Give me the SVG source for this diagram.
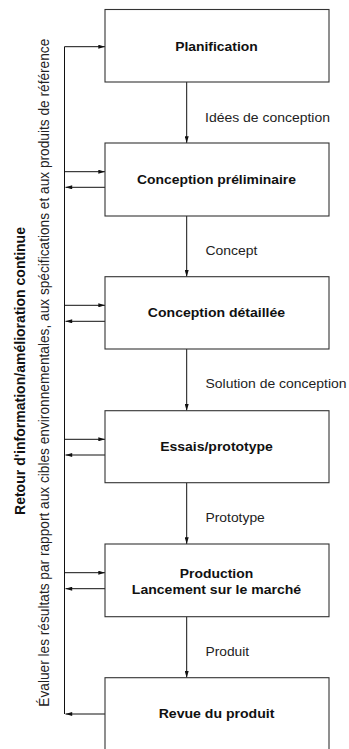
<svg xmlns="http://www.w3.org/2000/svg" width="349" height="749" viewBox="0 0 349 749">
<style>
.box{fill:#fff;stroke:#333;stroke-width:1.1}
.bt{font-family:"Liberation Sans",Arial,sans-serif;font-weight:bold;font-size:12.5px;fill:#111;text-anchor:middle}
.lt{font-family:"Liberation Sans",Arial,sans-serif;font-size:12.5px;fill:#222}
.side{font-family:"Liberation Sans",Arial,sans-serif;font-size:12px;fill:#222}
.sideb{font-family:"Liberation Sans",Arial,sans-serif;font-size:12px;font-weight:bold;fill:#111}
.ln{stroke:#111;stroke-width:1;fill:none}
</style>
<defs>
<marker id="ah" viewBox="0 0 10 6" refX="10" refY="3" markerWidth="8" markerHeight="4" markerUnits="userSpaceOnUse" orient="auto">
<path d="M0,0 L10,3 L0,6 Z" fill="#111"/>
</marker>
</defs>
<rect width="349" height="749" fill="#fff"/>
<g id="connectors">
<line class="ln" x1="186.7" y1="82" x2="186.7" y2="143" marker-end="url(#ah)"/>
<line class="ln" x1="186.7" y1="216" x2="186.7" y2="276.7" marker-end="url(#ah)"/>
<line class="ln" x1="186.7" y1="349" x2="186.7" y2="410.7" marker-end="url(#ah)"/>
<line class="ln" x1="186.7" y1="482.7" x2="186.7" y2="544" marker-end="url(#ah)"/>
<line class="ln" x1="186.7" y1="616.7" x2="186.7" y2="677.7" marker-end="url(#ah)"/>
<line class="ln" x1="64.5" y1="46.7" x2="64.5" y2="714"/>
<line class="ln" x1="64.5" y1="46.7" x2="105" y2="46.7" marker-end="url(#ah)"/>
<line class="ln" x1="64.5" y1="171.7" x2="105" y2="171.7" marker-end="url(#ah)"/>
<line class="ln" x1="105" y1="187.3" x2="65.5" y2="187.3" marker-end="url(#ah)"/>
<line class="ln" x1="64.5" y1="305.3" x2="105" y2="305.3" marker-end="url(#ah)"/>
<line class="ln" x1="105" y1="321.3" x2="65.5" y2="321.3" marker-end="url(#ah)"/>
<line class="ln" x1="64.5" y1="439.3" x2="105" y2="439.3" marker-end="url(#ah)"/>
<line class="ln" x1="105" y1="455" x2="65.5" y2="455" marker-end="url(#ah)"/>
<line class="ln" x1="64.5" y1="572.7" x2="105" y2="572.7" marker-end="url(#ah)"/>
<line class="ln" x1="105" y1="588.7" x2="65.5" y2="588.7" marker-end="url(#ah)"/>
<line class="ln" x1="105" y1="714" x2="65.5" y2="714" marker-end="url(#ah)"/>
<text class="lt" x="205" y="121.5" textLength="125" lengthAdjust="spacingAndGlyphs">Idées de conception</text>
<text class="lt" x="205.5" y="255" textLength="52" lengthAdjust="spacingAndGlyphs">Concept</text>
<text class="lt" x="205.5" y="388" textLength="141" lengthAdjust="spacingAndGlyphs">Solution de conception</text>
<text class="lt" x="205.5" y="521.7" textLength="59.3" lengthAdjust="spacingAndGlyphs">Prototype</text>
<text class="lt" x="205.5" y="656" textLength="43.6" lengthAdjust="spacingAndGlyphs">Produit</text>
</g>
<g id="n1"><rect class="box" x="105" y="9.5" width="224" height="72.5"/><text class="bt" x="216.5" y="50.8" textLength="82.7" lengthAdjust="spacingAndGlyphs">Planification</text></g>
<g id="n2"><rect class="box" x="105" y="143" width="224" height="73"/><text class="bt" x="216.5" y="183.5" textLength="159" lengthAdjust="spacingAndGlyphs">Conception préliminaire</text></g>
<g id="n3"><rect class="box" x="105" y="276.7" width="224" height="72.3"/><text class="bt" x="216.5" y="317" textLength="137.3" lengthAdjust="spacingAndGlyphs">Conception détaillée</text></g>
<g id="n4"><rect class="box" x="105" y="410.7" width="224" height="72"/><text class="bt" x="216.5" y="451" textLength="112.7" lengthAdjust="spacingAndGlyphs">Essais/prototype</text></g>
<g id="n5"><rect class="box" x="105" y="544" width="224" height="72.7"/><text class="bt" x="216.5" y="578" textLength="73.3" lengthAdjust="spacingAndGlyphs">Production</text><text class="bt" x="216.5" y="594" textLength="169.3" lengthAdjust="spacingAndGlyphs">Lancement sur le marché</text></g>
<g id="n6"><rect class="box" x="105" y="677.7" width="224" height="80"/><text class="bt" x="216.5" y="718" textLength="115.7" lengthAdjust="spacingAndGlyphs">Revue du produit</text></g>
<g id="side">
<text class="sideb" transform="translate(25,515) scale(1.16,1) rotate(-90)" textLength="288" lengthAdjust="spacingAndGlyphs">Retour d'information/amélioration continue</text>
<text class="side" transform="translate(48.5,706.7) scale(1.16,1) rotate(-90)" textLength="668" lengthAdjust="spacingAndGlyphs">Évaluer les résultats par rapport aux cibles environnementales, aux spécifications et aux produits de référence</text>
</g>
</svg>
